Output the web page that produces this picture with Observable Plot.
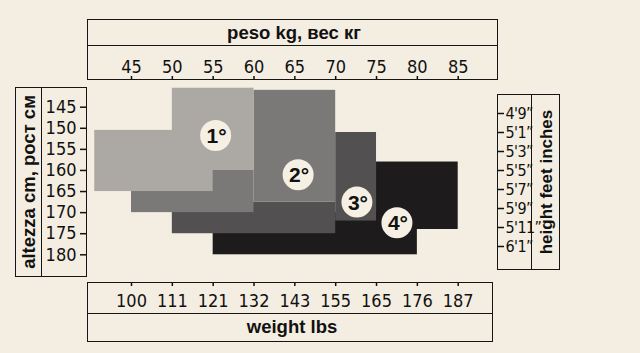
<!DOCTYPE html>
<html>
<head>
<meta charset="utf-8">
<script src="https://cdn.jsdelivr.net/npm/d3@7"></script>
<script src="https://cdn.jsdelivr.net/npm/@observablehq/plot@0.6"></script>
<style>
  html, body { margin: 0; padding: 0; background: #f4ede1; }
  #wrap { position: relative; width: 640px; height: 353px; overflow: hidden; background: #f4ede1; }
  #wrap svg { position: absolute; left: 0; top: 0; background: transparent; }
  .box { position: absolute; border: 1.5px solid #151515; box-sizing: border-box; }
  .title { position: absolute; font-family: "Liberation Sans", Arial, sans-serif; font-weight: bold; font-size: 18.5px; color: #111; white-space: nowrap; text-align: center; line-height: 1; }
  .rot { transform: translate(-50%, -50%) rotate(-90deg); }
  .hor { transform: translate(-50%, -50%); }
</style>
</head>
<body>
<div id="wrap">
  <div class="box" style="left:87px;top:19px;width:411px;height:61px;"></div>
  <div class="box" style="left:87px;top:45px;width:411px;height:1.5px;border-width:1.5px 0 0 0;"></div>
  <div class="title hor" style="left:294px;top:33px;">peso kg, вес кг</div>

  <div class="box" style="left:15px;top:87px;width:72px;height:190px;"></div>
  <div class="box" style="left:41px;top:87px;width:1.5px;height:190px;border-width:0 0 0 1.5px;"></div>
  <div class="title rot" style="left:29px;top:182px;font-size:18.5px;">altezza cm, рост см</div>

  <div class="box" style="left:497px;top:94px;width:63px;height:176px;"></div>
  <div class="box" style="left:531px;top:94px;width:1.5px;height:176px;border-width:0 0 0 1.5px;"></div>
  <div class="title rot" style="left:546px;top:182px;font-size:17px;">height feet inches</div>

  <div class="box" style="left:87px;top:282px;width:406px;height:60px;"></div>
  <div class="box" style="left:87px;top:313px;width:406px;height:1.5px;border-width:1.5px 0 0 0;"></div>
  <div class="title hor" style="left:292px;top:327px;">weight lbs</div>
</div>
<script>
// ---- data ----
const kgTicks = [45, 50, 55, 60, 65, 70, 75, 80, 85];
const lbsLabels = ["100", "111", "121", "132", "143", "155", "165", "176", "187"];
const cmTicks = [145, 150, 155, 160, 165, 170, 175, 180];
const feetLabels = ["4'9”", "5'1”", "5'3”", "5'5”", "5'7”", "5'9”", "5'11”", "6'1”"];

const sizeNames = ["1°", "2°", "3°", "4°"];
const sizeColors = ["#aca9a4", "#7b7977", "#525050", "#1e1b1d"];

// each size = union of two rectangles (kg from/to, cm from/to); drawn 4 → 1
const rectSize  = ["4°", "4°", "3°", "3°", "2°", "2°", "1°", "1°"];
const rectKgLo  = [75, 55, 70, 50, 60, 45, 50, 40.5];
const rectKgHi  = [85, 80, 75, 70, 70, 60, 60, 55];
const rectCmLo  = [158, 170, 151, 167.5, 141, 160, 140.5, 150.5];
const rectCmHi  = [174, 180, 172, 175, 167.5, 170, 160, 165];

// badge positions
const badgeKg = [55.3, 65.4, 72.6, 77.5];
const badgeCm = [151.7, 161, 167.5, 172.4];

const rects = rectSize.map((s, i) => ({size: s, x1: rectKgLo[i], x2: rectKgHi[i], y1: rectCmLo[i], y2: rectCmHi[i]}));
const badges = sizeNames.map((s, i) => ({size: s, kg: badgeKg[i], cm: badgeCm[i]}));

const narrow = "'Liberation Sans Narrow', 'DejaVu Sans Condensed', 'Arial Narrow', sans-serif";
const tickFont = {fontFamily: narrow, fontSize: 18};

const main = Plot.plot({
  width: 640,
  height: 353,
  marginTop: 79,
  marginLeft: 86,
  marginRight: 143,
  marginBottom: 71,
  style: {background: "transparent", color: "#111", overflow: "visible"},
  x: {domain: [45, 85], range: [131, 457.7]},
  y: {domain: [145, 180], range: [106.7, 254.3]},
  color: {domain: sizeNames, range: sizeColors},
  marks: [
    Plot.rect(rects, {x1: "x1", x2: "x2", y1: "y1", y2: "y2", fill: "size", inset: 0}),
    Plot.dot(badges, {x: "kg", y: "cm", r: 15.5, fill: "#f6efe3", stroke: "none"}),
    Plot.text(badges, {x: "kg", y: "cm", text: "size", fontSize: 21, fontWeight: "bold", fill: "#111",
      fontFamily: "'Liberation Sans', Arial, sans-serif", dx: 1, dy: 1}),
    Plot.axisX(kgTicks, {anchor: "top", tickSize: 4, tickPadding: 3, label: null, stroke: "#111", strokeWidth: 1.5, ...tickFont}),
    Plot.axisX(kgTicks, {anchor: "bottom", tickSize: 4, tickPadding: 8, label: null, tickFormat: (d, i) => lbsLabels[i], stroke: "#111", strokeWidth: 1.5, ...tickFont}),
    Plot.axisY(cmTicks, {anchor: "left", tickSize: 6, tickPadding: 4, label: null, stroke: "#111", strokeWidth: 1.5, ...tickFont})
  ]
});

const right = Plot.plot({
  width: 640,
  height: 353,
  marginRight: 143,
  marginTop: 94,
  marginBottom: 83,
  style: {background: "transparent", color: "#111", overflow: "visible", letterSpacing: "-0.6px"},
  y: {type: "point", domain: feetLabels, range: [111.7, 246.7], padding: 0},
  marks: [
    Plot.axisY({anchor: "right", tickSize: 6, tickPadding: 2, label: null, stroke: "#111", strokeWidth: 1.5, fontFamily: narrow, fontSize: 16})
  ]
});

const wrap = document.getElementById("wrap");
wrap.insertBefore(main, wrap.firstChild);
wrap.appendChild(right);
</script>
</body>
</html>
